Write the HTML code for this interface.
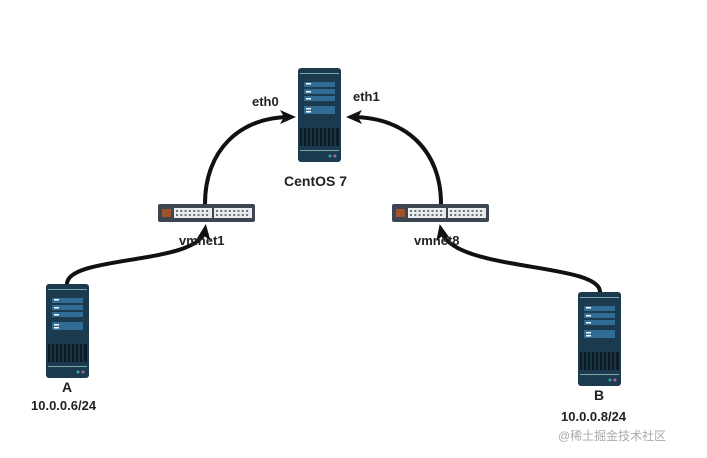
<!DOCTYPE html>
<html><head><meta charset="utf-8"><style>
body{margin:0;background:#fff;width:707px;height:458px;overflow:hidden}
svg{display:block}
text{font-family:"Liberation Sans",sans-serif;font-size:13px;font-weight:bold;fill:#222}
</style></head><body>
<svg width="707" height="458" viewBox="0 0 707 458">
<defs>
<g id="srv">
<rect x="0" y="0" width="43" height="94" rx="3" fill="#1c3a4d"/>
<rect x="2" y="5" width="39" height="1" fill="#7aa"/>
<rect x="6" y="14" width="31" height="5" fill="#2f6d96"/>
<rect x="6" y="21" width="31" height="5" fill="#2f6d96"/>
<rect x="6" y="28" width="31" height="5" fill="#2f6d96"/>
<rect x="6" y="38" width="31" height="8" fill="#2f6d96"/>
<rect x="8" y="15" width="5" height="1.5" fill="#fff"/>
<rect x="8" y="23" width="5" height="1.5" fill="#fff"/>
<rect x="8" y="30" width="5" height="1.5" fill="#fff"/>
<rect x="8" y="40" width="5" height="1.5" fill="#fff"/>
<rect x="8" y="43" width="5" height="1.5" fill="#fff"/>
<rect x="2" y="60" width="39" height="18" fill="#0c1c26"/>
<path d="M5 60v18M9 60v18M13 60v18M17 60v18M21 60v18M25 60v18M29 60v18M33 60v18M37 60v18" stroke="#2a4a5c" stroke-width="1"/>
<rect x="2" y="82" width="39" height="1" fill="#7aa"/>
<circle cx="32" cy="88" r="1.5" fill="#3a9"/><circle cx="37" cy="88" r="1.5" fill="#a6a"/>
</g>
<g id="sw">
<rect x="0" y="0" width="97" height="18" rx="2" fill="#3d4650"/>
<rect x="4" y="5" width="9" height="8" fill="#a0522d"/>
<rect x="16" y="4" width="38" height="10" fill="#e8ecef"/>
<rect x="56" y="4" width="38" height="10" fill="#e8ecef"/>
<path d="M18 7h34M18 11h34M58 7h34M58 11h34" stroke="#3d4650" stroke-width="1.5" stroke-dasharray="2 2.3"/>
</g>
<marker id="ah" markerWidth="16" markerHeight="14" refX="10" refY="7" orient="auto" markerUnits="userSpaceOnUse"><path d="M0 0L16 7L0 14L4 7z" fill="#111"/></marker>
</defs>
<g fill="none" stroke="#111" stroke-width="4">
<path d="M205 204 C205 150 240 117 290 117" marker-end="url(#ah)"/>
<path d="M441 204 C441 150 405 117 352 117" marker-end="url(#ah)"/>
<path d="M67 284 C67 255 200 265 205 230" marker-end="url(#ah)"/>
<path d="M600 292 C600 262 450 272 441 230" marker-end="url(#ah)"/>
</g>
<use href="#srv" x="298" y="68"/>
<use href="#srv" x="46" y="284"/>
<use href="#srv" x="578" y="292"/>
<use href="#sw" x="158" y="204"/>
<use href="#sw" x="392" y="204"/>
<text x="252" y="106">eth0</text>
<text x="353" y="101">eth1</text>
<text x="284" y="186" style="font-size:14px">CentOS 7</text>
<text x="179" y="245">vmnet1</text>
<text x="414" y="245">vmnet8</text>
<text x="62" y="392" style="font-size:14px">A</text>
<text x="31" y="410">10.0.0.6/24</text>
<text x="594" y="400" style="font-size:14px">B</text>
<text x="561" y="421">10.0.0.8/24</text>
<text x="558" y="440" style="font-size:12px;font-weight:normal;fill:#aaa;font-family:'Liberation Sans','Noto Sans CJK SC',sans-serif">@稀土掘金技术社区</text>
</svg>
</body></html>
